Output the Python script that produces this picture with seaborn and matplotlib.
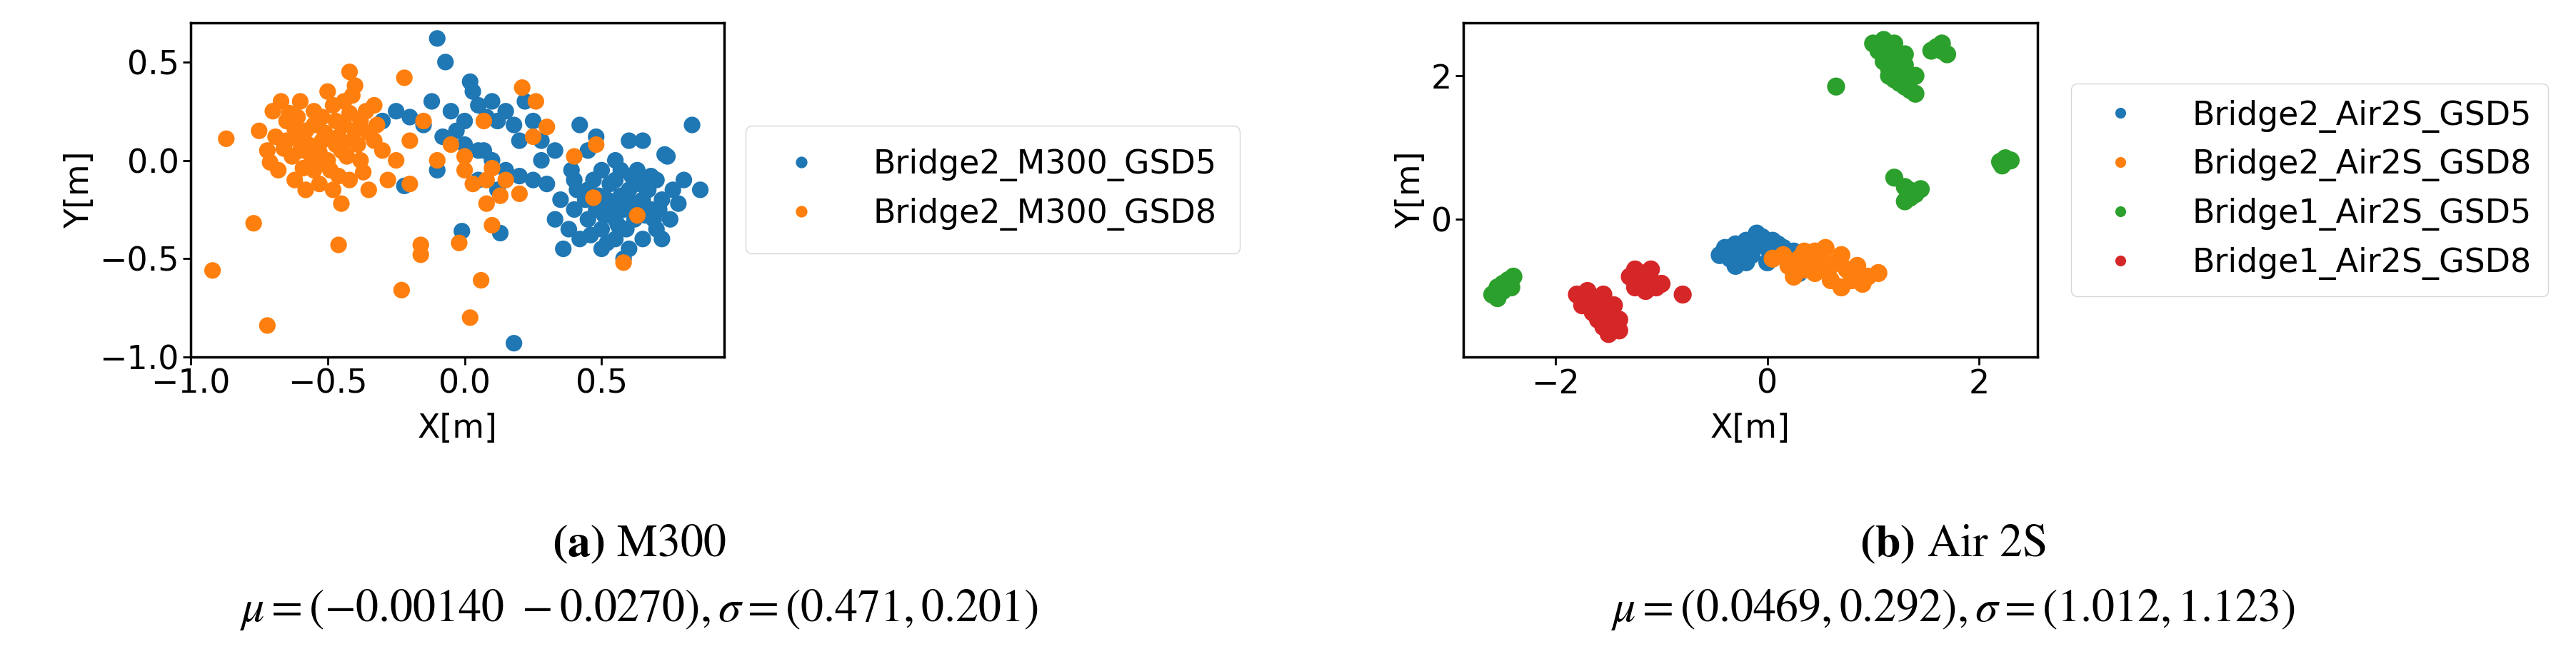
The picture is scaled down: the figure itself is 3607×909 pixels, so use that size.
import numpy as np
import pandas as pd
import seaborn as sns
import matplotlib.pyplot as plt

# --- Panel (a): M300 ---
a_gsd5_x = [0.40, 0.45, 0.50, 0.55, 0.60, 0.65, 0.70, 0.52, 0.48, 0.58, 0.62, 0.68, 0.72, 0.55, 0.50, 0.45,
            0.40, 0.35, 0.38, 0.42, 0.55, 0.60, 0.65, 0.70, 0.75, 0.78, 0.80, 0.74, 0.65, 0.60, 0.55, 0.45,
            0.42, 0.36, 0.50, 0.58, 0.72, 0.63, 0.30, 0.33, 0.47, 0.57, 0.67, 0.53, 0.62, 0.44, 0.76, 0.69,
            0.51, 0.56, 0.61, 0.66, 0.46, 0.41, 0.54, 0.59, 0.64, 0.49, 0.71, 0.39, 0.57, 0.52, 0.63, 0.68,
            -0.30, -0.25, -0.20, -0.15, -0.12, -0.05, -0.03, 0.00, 0.03, 0.05, 0.08, 0.10, 0.12, 0.15, 0.18,
            0.20, 0.22, 0.25, 0.28, -0.08, 0.00, 0.05, 0.10, 0.15, 0.20, 0.25, 0.28, -0.10, 0.05, 0.12, -0.22,
            0.33, 0.02, 0.07, -0.10, -0.07, 0.18, 0.83, 0.86, -0.01, 0.13, 0.48, 0.73]
a_gsd5_y = [-0.10, -0.15, -0.05, -0.10, -0.15, -0.20, -0.10, -0.20, -0.25, -0.25, -0.30, -0.25, -0.20, -0.30,
            -0.35, -0.30, -0.25, -0.20, -0.35, -0.40, -0.40, -0.45, -0.40, -0.35, -0.30, -0.22, -0.10, 0.02,
            0.10, 0.10, 0.00, 0.05, 0.18, -0.45, -0.45, -0.50, -0.40, -0.05, -0.12, -0.30, -0.10, -0.18, -0.15,
            -0.12, -0.22, -0.20, -0.15, -0.30,
            -0.28, -0.33, -0.08, -0.28, -0.38, -0.15, -0.22, -0.35, -0.12, -0.18, -0.25, -0.05, -0.05, -0.42,
            -0.25, -0.08,
            0.20, 0.25, 0.22, 0.18, 0.30, 0.25, 0.15, 0.20, 0.35, 0.28, 0.22, 0.30, 0.20, 0.25, 0.18,
            0.10, 0.30, 0.20, 0.10, 0.12, 0.08, 0.05, 0.00, -0.05, -0.08, -0.10, 0.00, -0.05, -0.10, -0.15, -0.13,
            0.05, 0.40, 0.05, 0.62, 0.50, -0.93, 0.18, -0.15, -0.36, -0.37, 0.12, 0.03]
a_gsd8_x = [-0.75, -0.72, -0.70, -0.68, -0.65, -0.65, -0.62, -0.60, -0.60, -0.58, -0.55, -0.55, -0.52, -0.50,
            -0.50, -0.48, -0.47, -0.45, -0.44, -0.42, -0.42, -0.40, -0.40, -0.38, -0.36, -0.35, -0.33, -0.30,
            -0.28, -0.55, -0.58, -0.63, -0.67, -0.46, -0.52, -0.57, -0.49, -0.43, -0.38, -0.33, -0.62, -0.53,
            -0.45, -0.71, -0.41,
            -0.60, -0.56, -0.51, -0.47, -0.44, -0.39, -0.35, -0.66, -0.61, -0.54, -0.48, -0.42, -0.37, -0.32,
            -0.59, -0.53, -0.46, -0.41, -0.69, -0.64,
            -0.87, -0.92, -0.72, -0.77, -0.46, -0.23, -0.16, -0.16, 0.02, 0.06, -0.02, 0.58, 0.63, 0.47, 0.10,
            -0.22, 0.21, 0.26, 0.30, 0.07, -0.20, -0.15, -0.10, -0.05, 0.00, 0.03, 0.08, 0.15, 0.20, 0.08, 0.10,
            0.40, 0.48, -0.25, -0.20, 0.00, 0.13, 0.25]
a_gsd8_y = [0.15, 0.05, 0.25, -0.05, 0.20, 0.10, -0.10, 0.30, 0.05, 0.15, -0.05, 0.25, 0.10, 0.35, 0.00, -0.15,
            0.20, 0.05, 0.30, 0.45, -0.10, 0.15, 0.38, 0.00, 0.25, -0.15, 0.10, 0.05, -0.10, 0.18, -0.15, 0.02,
            0.30, 0.12, 0.22, 0.08, -0.05, 0.02, 0.20, 0.28, 0.16, -0.12, -0.22, -0.01, 0.33,
            0.10, 0.02, 0.14, 0.08, 0.18, 0.08, 0.14, 0.06, 0.22, -0.02, 0.28, 0.24, -0.06, 0.18,
            -0.04, 0.04, -0.08, 0.10, 0.12, 0.24,
            0.11, -0.56, -0.84, -0.32, -0.43, -0.66, -0.43, -0.48, -0.80, -0.61, -0.42, -0.52, -0.28, -0.19, -0.33,
            0.42, 0.37, 0.30, 0.17, 0.20, 0.10, 0.20, 0.00, 0.08, 0.02, -0.12, -0.10, -0.10, -0.17, -0.22, -0.04,
            0.02, 0.08, 0.00, -0.12, -0.05, -0.18, 0.12]
a_labels = ["Bridge2_M300_GSD5", "Bridge2_M300_GSD8"]

# --- Panel (b): Air 2S ---
b_b2g5_x = [-0.45, -0.40, -0.35, -0.30, -0.25, -0.20, -0.15, -0.10, -0.05, 0.00, 0.05, 0.10, 0.15, 0.20,
            0.25, 0.30, 0.35, 0.40, -0.20, -0.10, 0.00, 0.10, 0.30, -0.30]
b_b2g5_y = [-0.50, -0.40, -0.55, -0.35, -0.45, -0.30, -0.50, -0.35, -0.25, -0.40, -0.30, -0.50, -0.40, -0.55,
            -0.45, -0.60, -0.50, -0.70, -0.60, -0.20, -0.60, -0.35, -0.75, -0.65]
b_b2g8_x = [0.05, 0.15, 0.20, 0.30, 0.35, 0.40, 0.45, 0.50, 0.55, 0.55, 0.60, 0.65, 0.70, 0.75, 0.80, 0.85,
            0.90, 0.95, 1.05, 0.25, 0.45, 0.70, 0.35, 0.60]
b_b2g8_y = [-0.55, -0.50, -0.65, -0.55, -0.70, -0.60, -0.75, -0.55, -0.40, -0.70, -0.85, -0.60, -0.50, -0.70,
            -0.85, -0.65, -0.90, -0.80, -0.75, -0.80, -0.45, -0.95, -0.45, -0.65]
b_b1g5_x = [1.00, 1.05, 1.10, 1.15, 1.20, 1.10, 1.15, 1.20, 1.25, 1.30, 1.20, 1.25, 1.30, 1.35, 1.35, 1.40,
            1.30, 1.15, 1.25, 1.40, 1.60, 1.65, 1.70, 1.55, 1.65, 0.65,
            1.20, 1.30, 1.35, 1.40, 1.45, 1.35, 1.30, 2.20, 2.25, 2.30, 2.22,
            -2.60, -2.55, -2.50, -2.45, -2.40, -2.50, -2.42, -2.55]
b_b1g5_y = [2.45, 2.35, 2.50, 2.30, 2.45, 2.20, 2.10, 2.20, 2.05, 2.15, 1.95, 1.90, 1.85, 1.95, 1.80, 1.75,
            2.30, 2.00, 2.30, 2.00, 2.40, 2.35, 2.30, 2.35, 2.45, 1.85,
            0.58, 0.45, 0.40, 0.35, 0.42, 0.30, 0.25, 0.80, 0.85, 0.82, 0.75,
            -1.05, -0.95, -1.00, -0.85, -0.80, -0.90, -0.95, -1.10]
b_b1g8_x = [-1.80, -1.75, -1.70, -1.65, -1.60, -1.55, -1.60, -1.55, -1.50, -1.45, -1.50, -1.40, -1.45, -1.65,
            -1.40, -1.55, -1.30, -1.25, -1.20, -1.15, -1.10, -1.05, -1.15, -1.25, -1.00, -1.10, -0.80]
b_b1g8_y = [-1.05, -1.20, -1.00, -1.30, -1.15, -1.05, -1.40, -1.25, -1.35, -1.50, -1.60, -1.55, -1.20, -1.10,
            -1.40, -1.50, -0.80, -0.70, -0.90, -0.75, -0.85, -0.95, -1.00, -0.95, -0.90, -0.70, -1.05]
b_labels = ["Bridge2_Air2S_GSD5", "Bridge2_Air2S_GSD8", "Bridge1_Air2S_GSD5", "Bridge1_Air2S_GSD8"]

df_a = pd.concat([
    pd.DataFrame({"x": a_gsd5_x, "y": a_gsd5_y, "set": a_labels[0]}),
    pd.DataFrame({"x": a_gsd8_x, "y": a_gsd8_y, "set": a_labels[1]}),
])
df_b = pd.concat([
    pd.DataFrame({"x": b_b2g5_x, "y": b_b2g5_y, "set": b_labels[0]}),
    pd.DataFrame({"x": b_b2g8_x, "y": b_b2g8_y, "set": b_labels[1]}),
    pd.DataFrame({"x": b_b1g5_x, "y": b_b1g5_y, "set": b_labels[2]}),
    pd.DataFrame({"x": b_b1g8_x, "y": b_b1g8_y, "set": b_labels[3]}),
])

plt.rcParams['font.size'] = 33
plt.rcParams['mathtext.fontset'] = 'stix'
fig = plt.figure(figsize=(36.07, 9.09), dpi=100)
ax_a = fig.add_axes([0.074, 0.45, 0.207, 0.515])
ax_b = fig.add_axes([0.568, 0.45, 0.223, 0.515])

sns.scatterplot(data=df_a, x="x", y="y", hue="set", palette="tab10", s=280, linewidth=0,
                alpha=1, ax=ax_a, legend=True)
sns.scatterplot(data=df_b, x="x", y="y", hue="set", palette="tab10", s=330, linewidth=0,
                alpha=1, ax=ax_b, legend=True)

ax_a.set_xlim(-1.0, 0.946)
ax_a.set_ylim(-1.0, 0.70)
ax_a.set_xticks([-1.0, -0.5, 0.0, 0.5])
ax_a.set_yticks([-1.0, -0.5, 0.0, 0.5])
ax_b.set_xlim(-2.875, 2.555)
ax_b.set_ylim(-1.92, 2.74)
ax_b.set_xticks([-2, 0, 2])
ax_b.set_yticks([0, 2])

for ax in (ax_a, ax_b):
    ax.set_xlabel("X[m]", fontsize=33, labelpad=12)
    ax.set_ylabel("Y[m]", fontsize=33)
    ax.tick_params(labelsize=33, width=2, length=8)
    for sp in ax.spines.values():
        sp.set_linewidth(2.5)

ax_a.legend(loc="center left", bbox_to_anchor=(1.01, 0.5), fontsize=33, markerscale=0.7,
            handletextpad=1.2, borderpad=0.7)
ax_b.legend(loc="center left", bbox_to_anchor=(1.03, 0.5), fontsize=33, markerscale=0.6,
            handletextpad=1.2, borderpad=0.5)

# captions
fig.text(0.248, 0.16, r"$\mathbf{(a)}$ M300", ha="center", va="center", fontsize=46, family="STIXGeneral")
fig.text(0.248, 0.06, r"$\mu=(-0.00140\ -0.0270),\sigma=(0.471,0.201)$", ha="center", va="center", fontsize=46)
fig.text(0.758, 0.16, r"$\mathbf{(b)}$ Air 2S", ha="center", va="center", fontsize=46, family="STIXGeneral")
fig.text(0.758, 0.06, r"$\mu=(0.0469,0.292),\sigma=(1.012,1.123)$", ha="center", va="center", fontsize=46)

plt.savefig("out.png", dpi=100)
